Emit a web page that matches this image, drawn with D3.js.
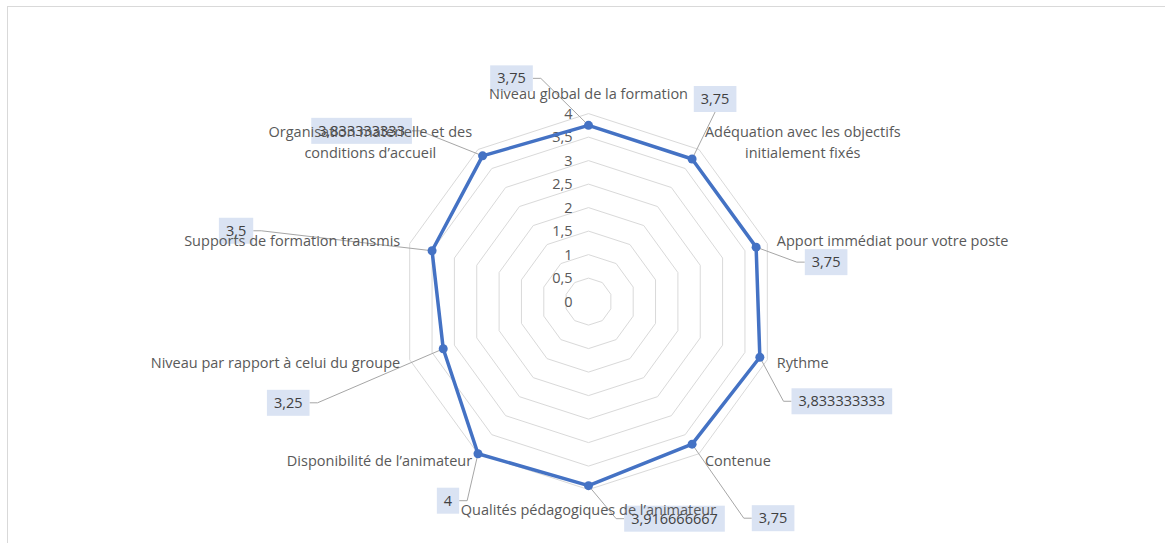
<!DOCTYPE html>
<html>
<meta charset="utf-8">
<head>
<script src="https://d3js.org/d3.v7.min.js"></script>
<style>
  body { margin: 0; background: #fff; }
  svg { display: block; font-family: "Open Sans", sans-serif; }
</style>
</head>
<body>
<div id="chart"></div>
<script>
// categories, clockwise from the top
var categories = [
  "Niveau global de la formation",
  "Adéquation avec les objectifs\ninitialement fixés",
  "Apport immédiat pour votre poste",
  "Rythme",
  "Contenue",
  "Qualités pédagogiques de l\u2019animateur",
  "Disponibilité de l\u2019animateur",
  "Niveau par rapport à celui du groupe",
  "Supports de formation transmis",
  "Organisation matérielle et des\nconditions d\u2019accueil"
];
var values = [3.75, 3.75, 3.75, 3.833333333, 3.75, 3.916666667, 4, 3.25, 3.5, 3.833333333];
var ticks = [0, 0.5, 1, 1.5, 2, 2.5, 3, 3.5, 4];

// manual placement of the data labels (box centre relative to its point)
var labelOffsets = [[-77, -47], [23, -60], [70, 15], [82, 44], [81, 74],
                    [86, 33], [-30, 47], [-155, 54], [-196, -20], [-121, -25]];

var width = 1165, height = 543;
var cx = 588.5, cy = 301.6, R = 188;

var svg = d3.select("#chart").append("svg")
  .attr("width", width)
  .attr("height", height);

// chart frame
svg.append("rect")
  .attr("x", 7.5).attr("y", 6.5)
  .attr("width", width + 20).attr("height", height + 20)
  .attr("fill", "#fff")
  .attr("stroke", "#d9d9d9");

var g = svg.append("g").attr("transform", "translate(" + cx + "," + cy + ")");

var r = d3.scaleLinear().domain([0, 4]).range([0, R]);
var angle = d3.scaleLinear().domain([0, categories.length]).range([0, 2 * Math.PI]);

function fmt(v) { return String(+v.toPrecision(10)).replace(".", ","); }
function pos(i, v) {
  var a = angle(i);
  return [r(v) * Math.sin(a), -r(v) * Math.cos(a)];
}

// grid rings
var ring = d3.lineRadial()
  .angle(function (d, i) { return angle(i); })
  .radius(function (d) { return r(d); })
  .curve(d3.curveLinearClosed);

g.selectAll(".ring")
  .data(ticks.filter(function (t) { return t > 0; }))
  .join("path")
  .attr("d", function (t) { return ring(categories.map(function () { return t; })); })
  .attr("fill", "none")
  .attr("stroke", "#d9d9d9")
  .attr("stroke-width", 1);

// value axis labels
g.selectAll(".tick")
  .data(ticks)
  .join("text")
  .attr("x", -16)
  .attr("y", function (t) { return -r(t); })
  .attr("dy", "0.35em")
  .attr("text-anchor", "end")
  .attr("font-size", "14.5px")
  .attr("fill", "#595959")
  .text(fmt);

// data label geometry
var points = values.map(function (v, i) { return pos(i, v); });
var labels = g.append("g");
var boxes = values.map(function (v, i) {
  var p = points[i];
  var bx = p[0] + labelOffsets[i][0], by = p[1] + labelOffsets[i][1];
  var t = labels.append("text")
    .attr("x", bx).attr("y", by).attr("dy", "0.35em")
    .attr("text-anchor", "middle")
    .attr("font-size", "14.5px")
    .attr("fill", "#404040")
    .text(fmt(v));
  var w = t.node().getComputedTextLength() + 14;
  return { x: bx, y: by, w: w, h: 26, t: t };
});

// leader lines
var leaders = g.append("g");
g.node().insertBefore(leaders.node(), labels.node());
boxes.forEach(function (b, i) {
  var p = points[i], pts;
  if (Math.abs(b.x - p[0]) < b.w / 2 + 5) {
    var ey = b.y < p[1] ? b.y + b.h / 2 : b.y - b.h / 2;
    pts = [p, [b.x, ey]];
  } else {
    var side = b.x < p[0] ? b.x + b.w / 2 : b.x - b.w / 2;
    var elbow = b.x < p[0] ? side + 8 : side - 8;
    pts = [p, [elbow, b.y], [side, b.y]];
  }
  leaders.append("path")
    .attr("d", d3.line()(pts))
    .attr("fill", "none")
    .attr("stroke", "#a6a6a6")
    .attr("stroke-width", 1);
});

// series
var series = g.insert("g", function () { return labels.node(); });
series.append("path")
  .datum(values)
  .attr("d", ring)
  .attr("fill", "none")
  .attr("stroke", "#4472c4")
  .attr("stroke-width", 3.5)
  .attr("stroke-linejoin", "round");
series.selectAll("circle")
  .data(points)
  .join("circle")
  .attr("cx", function (d) { return d[0]; })
  .attr("cy", function (d) { return d[1]; })
  .attr("r", 4.5)
  .attr("fill", "#4472c4");

// label boxes behind the numbers
boxes.forEach(function (b) {
  labels.insert("rect", function () { return b.t.node(); })
    .attr("x", b.x - b.w / 2).attr("y", b.y - b.h / 2)
    .attr("width", b.w).attr("height", b.h)
    .attr("fill", "#dae3f3");
});

// category labels, outside the outer ring
var lh = 20.5;
categories.forEach(function (c, i) {
  var a = angle(i), s = Math.sin(a), co = Math.cos(a);
  var v = [R * s, -R * co];
  var anchor, ax, ay;
  if (Math.abs(s) < 0.1) {
    anchor = "middle"; ax = v[0]; ay = v[1] - 20 * co;
  } else {
    anchor = s > 0 ? "start" : "end"; ax = v[0] + 10 * s; ay = v[1] - 9 * co;
  }
  var lines = c.split("\n");
  var t = g.append("text")
    .attr("font-size", "14.5px")
    .attr("fill", "#595959")
    .attr("text-anchor", "middle");
  var spans = lines.map(function (l, k) {
    return t.append("tspan")
      .attr("y", ay - (lines.length - 1) * lh / 2 + k * lh)
      .attr("dy", "0.35em")
      .text(l);
  });
  var bw = d3.max(spans, function (sp) { return sp.node().getComputedTextLength(); });
  var mx = anchor === "start" ? ax + bw / 2 : anchor === "end" ? ax - bw / 2 : ax;
  spans.forEach(function (sp) { sp.attr("x", mx); });
});
</script>
</body>
</html>
